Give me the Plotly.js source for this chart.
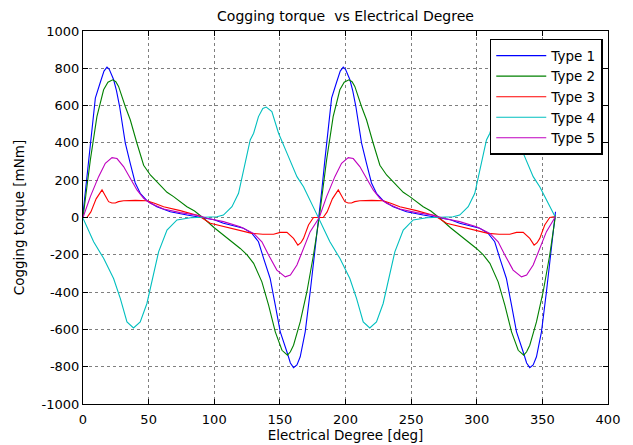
<!DOCTYPE html>
<html>
<head>
<meta charset="utf-8">
<script src="https://cdn.plot.ly/plotly-3.0.1.min.js"></script>
<style>html,body{margin:0;padding:0;background:#fff;}#chart{width:633px;height:445px;}</style>
</head>
<body>
<div id="chart"></div>
<script>
// Series names
const seriesNames = ["Type 1", "Type 2", "Type 3", "Type 4", "Type 5"];

// Type 1 (blue)
const type1Deg = [0,2,4.3,7,9.4,13.2,16,18.3,20,23.3,25.5,27.9,30,32.2,36,39.8,43.6,48.7,56.3,66.5,79.2,90,100,107,115,122.3,128.7,133.7,137.6,142.6,146.5,150.3,155.4,158,160.4,163,165.5,169.3,173.1,176.9,180,
  182,184.3,187,189.4,193.2,196,198.3,200,203.3,205.5,207.9,210,212.2,216,219.8,223.6,228.7,236.3,246.5,259.2,270,280,287,295,302.3,308.7,313.7,317.6,322.6,326.5,330.3,335.4,338,340.4,343,345.5,349.3,353.1,356.9,360];
const type1Val = [20,150,309,500,640,725,785,806,795,740,680,595,500,400,290,185,130,90,58,31,13,0,-12,-31,-45,-58,-85,-130,-219,-327,-470,-613,-721,-780,-805,-790,-747,-613,-398,-166,10,
  150,309,500,640,725,785,806,795,740,680,595,500,400,290,185,130,90,58,31,13,0,-12,-31,-45,-58,-85,-130,-219,-327,-470,-613,-721,-780,-805,-790,-747,-613,-398,-166,31];

// Type 2 (green)
const type2Deg = [0,2.5,5.6,10.6,15.7,19,22.6,25,27.1,32.2,36,41.1,46.2,51.3,58.9,64,69,79.2,85,91.9,100,107,113,119.8,125,130,136.3,141.4,146.5,151.6,155.8,158,160.4,165.5,170.6,175.6,180,
  182.5,185.6,190.6,195.7,199,202.6,205,207.1,212.2,216,221.1,226.2,231.3,238.9,244,249,259.2,265,271.9,280,287,293,299.8,305,310,316.3,321.4,326.5,331.6,335.8,338,340.4,345.5,350.6,355.6,360];
const type2Val = [0,150,309,541,685,725,738,728,703,595,524,398,280,228,175,135,112,58,35,-4,-55,-94,-130,-166,-200,-246,-345,-470,-613,-712,-738,-720,-685,-560,-398,-201,0,
  150,309,541,685,725,738,728,703,595,524,398,280,228,175,135,112,58,35,-4,-55,-94,-130,-166,-200,-246,-345,-470,-613,-712,-738,-720,-685,-560,-398,-201,10];

// Type 3 (red)
const type3Deg = [0,3,6,10,14.5,17,19.5,22,24.6,27,30.9,40,48.7,55,61.4,74.1,88.1,97,112.2,128.7,137,145.2,150.3,155.4,160.4,163.7,166,168,171.8,175.6,180,
  183,186,190,194.5,197,199.5,202,204.6,207,210.9,220,228.7,235,241.4,254.1,268.1,277,292.2,308.7,317,325.2,330.3,335.4,340.4,343.7,346,348,351.8,355.6,360];
const type3Val = [0,0,30,100,148,120,85,78,78,85,90,92,90,75,58,37,9,-31,-58,-85,-90,-90,-80,-80,-112,-148,-135,-112,-40,0,0,
  0,30,100,148,120,85,78,78,85,90,92,90,75,58,37,9,-31,-58,-85,-90,-90,-80,-80,-112,-148,-135,-112,-40,0,5];

// Type 4 (cyan)
const type4Deg = [0,4,8.1,15.7,23.3,28.4,33.5,38.5,43.6,48.7,52.6,57.6,64,71.6,81.8,95,102,107,113.5,118.5,122.3,127.4,130,133.7,137,139.6,143.9,149,155.4,163,168,173.1,180,
  184,188.1,195.7,203.3,208.4,213.5,218.5,223.6,228.7,232.6,237.6,244,251.6,261.8,275,282,287,293.5,298.5,302.3,307.4,310,313.7,317,319.6,323.9,329,335.4,343,348,353.1,360];
const type4Val = [-4,-70,-130,-219,-327,-434,-560,-592,-560,-461,-345,-184,-67,-13,-1,2,4,13,58,130,255,416,452,541,585,592,568,452,345,219,165,94,-10,
  -70,-130,-219,-327,-434,-560,-592,-560,-461,-345,-184,-67,-13,-1,2,4,13,58,130,255,416,452,541,585,592,568,452,345,219,165,94,0];

// Type 5 (magenta)
const type5Deg = [0,5.6,11.9,17,22.1,25.9,30.9,36,41.1,46.2,51.3,61.4,74.1,88.1,94.4,107,119.8,130,136.3,141.4,147.7,154.1,158,163,168,173.1,180,
  185.6,191.9,197,202.1,205.9,210.9,216,221.1,226.2,231.3,241.4,254.1,268.1,274.4,287,299.8,310,316.3,321.4,327.7,334.1,338,343,348,353.1,360];
const type5Val = [0,112,219,291,321,316,273,210,148,103,76,46,26,11,-4,-22,-49,-85,-130,-201,-282,-318,-309,-255,-166,-76,0,
  112,219,291,321,316,273,210,148,103,76,46,26,11,-4,-22,-49,-85,-130,-201,-282,-318,-309,-255,-166,-76,5];

// Axis ticks
const xTicks = [0,50,100,150,200,250,300,350,400];
const yTicks = [-1000,-800,-600,-400,-200,0,200,400,600,800,1000];

const colors = ["#0000ff", "#008000", "#ff0000", "#00bfbf", "#bf00bf"];
const xs = [type1Deg, type2Deg, type3Deg, type4Deg, type5Deg];
const ys = [type1Val, type2Val, type3Val, type4Val, type5Val];

const traces = seriesNames.map((n, i) => ({
  type: "scatter", mode: "lines", name: n,
  x: xs[i], y: ys[i],
  line: {color: colors[i], width: 1.1}
}));

const fam = "DejaVu Sans, Arial, sans-serif";
const fnt = {family: fam, size: 13, color: "#000"};

const axisCommon = {
  showline: true, linecolor: "#000", linewidth: 1, mirror: "allticks",
  ticks: "inside", ticklen: 5, tickcolor: "#000",
  showgrid: true, gridcolor: "rgba(0,0,0,0.5)", griddash: "dot", gridwidth: 1,
  zeroline: false, tickfont: fnt, automargin: false
};

const layout = {
  width: 633, height: 445,
  margin: {l: 83, r: 25, t: 31, b: 41},
  paper_bgcolor: "#fff", plot_bgcolor: "#fff",
  font: fnt,
  title: {text: "Cogging torque  vs Electrical Degree", font: {family: fam, size: 14, color: "#000"}, x: 0.5, xref: "paper", xanchor: "center", y: 0.963, yref: "container", yanchor: "middle"},
  xaxis: Object.assign({}, axisCommon, {range: [0, 400], tickvals: xTicks, ticktext: xTicks.map(String),
    ticklabelstandoff: 3,
    title: {text: "Electrical Degree [deg]", font: {family: fam, size: 13.5, color: "#000"}, standoff: 4}}),
  yaxis: Object.assign({}, axisCommon, {range: [-1000, 1000], tickvals: yTicks, ticktext: yTicks.map(String),
    title: {text: "Cogging torque [mNm]", font: {family: fam, size: 13.5, color: "#000"}, standoff: 13}}),
  legend: {x: 0.99, y: 0.979, xanchor: "right", yanchor: "top", bgcolor: "#fff",
    bordercolor: "#000", borderwidth: 1.5, font: {family: fam, size: 13.5, color: "#000"}, tracegroupgap: 0, itemwidth: 50},
  showlegend: true
};

Plotly.newPlot("chart", traces, layout, {staticPlot: true, displayModeBar: false});
</script>
</body>
</html>
